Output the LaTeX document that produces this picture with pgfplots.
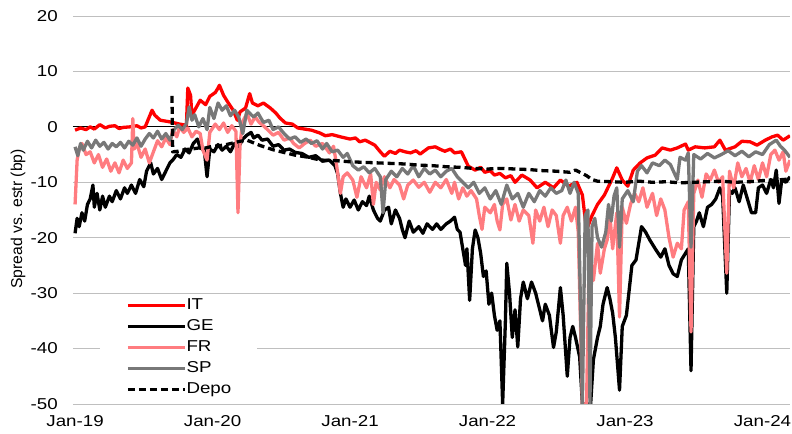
\documentclass[border=0pt]{standalone}
\usepackage{pgfplots}
\pgfplotsset{compat=1.18}
\usepackage{graphicx}
\usepackage{fontspec}
\setmainfont{Liberation Sans}
\newcommand\hs[1]{\scalebox{1.19}[1]{#1}}
\definecolor{itred}{RGB}{255,0,0}
\definecolor{frpink}{RGB}{255,124,128}
\definecolor{spgray}{RGB}{120,120,120}
\definecolor{gridgray}{RGB}{191,191,191}
\begin{document}
\begin{tikzpicture}[font=\fontsize{15.8}{19}\selectfont]
\path[use as bounding box] (-73bp,-30bp) rectangle (719bp,404bp);
\begin{axis}[
  scale only axis, width=717bp, height=388bp,
  xmin=2018.985, xmax=2024.2, ymin=-50, ymax=20,
  axis x line*=bottom, axis y line*=left,
  axis line style={draw=none},
  major tick length=0pt,
  xtick={2019,2020,2021,2022,2023,2024},
  xticklabels={\hs{Jan-19},\hs{Jan-20},\hs{Jan-21},\hs{Jan-22},\hs{Jan-23},\hs{Jan-24}},
  ytick={-50,-40,-30,-20,-10,0,10,20},
  yticklabels={\hs{-50},\hs{-40},\hs{-30},\hs{-20},\hs{-10},\hs{0},\hs{10},\hs{20}},
  xticklabel style={inner sep=0pt, anchor=north, yshift=-11bp},
  yticklabel style={inner sep=0pt, anchor=east, xshift=-15bp},
  ymajorgrids, grid style={gridgray, line width=1bp},
  extra y ticks={0}, extra y tick labels={},
  extra y tick style={grid style={black, line width=1.2bp}},
  ylabel={Spread vs. estr (bp)},
  ylabel style={at={(axis description cs:-0.0767,0.477)}, anchor=center},
  legend style={at={(axis description cs:0.0377,0.278)}, anchor=north west,
    fill=white, draw=none, inner xsep=26bp, inner ysep=2bp,
    row sep=6bp,
    nodes={inner sep=0pt, text height=11.5bp, text depth=3.5bp},
    /tikz/every even column/.append style={column sep=7bp}},
  legend cell align=left,
  legend image code/.code={\draw[#1] (0bp,0bp) -- (57bp,0bp);},
  every axis plot/.append style={line width=3.3bp, line join=round},
]
\addplot[itred] coordinates {(2019.00,-0.6)(2019.04,-0.2)(2019.08,-0.5)(2019.11,0)(2019.14,-0.4)(2019.18,0.4)(2019.22,-0.2)(2019.25,0.1)(2019.29,0.2)(2019.32,-0.3)(2019.35,-0.1)(2019.40,0)(2019.45,0.2)(2019.48,-0.2)(2019.51,0)(2019.53,1.2)(2019.56,3.0)(2019.58,2.1)(2019.62,1.2)(2019.69,0.9)(2019.76,0.5)(2019.81,0.3)(2019.82,7.0)(2019.84,5.7)(2019.85,2.1)(2019.87,3.0)(2019.91,4.8)(2019.95,4.0)(2019.98,5.5)(2020.02,6.2)(2020.04,7.0)(2020.05,7.5)(2020.08,5.7)(2020.11,4.5)(2020.15,3.0)(2020.18,1.2)(2020.20,2.7)(2020.24,3.4)(2020.27,6.0)(2020.29,4.3)(2020.33,3.8)(2020.37,4.3)(2020.42,3.4)(2020.46,2.5)(2020.49,1.6)(2020.53,0.7)(2020.58,0.5)(2020.62,-0.2)(2020.67,-0.4)(2020.72,-0.6)(2020.78,-1.1)(2020.82,-1.6)(2020.87,-1.4)(2020.93,-1.8)(2021.00,-2.2)(2021.04,-2.0)(2021.07,-2.7)(2021.11,-2.4)(2021.15,-2.9)(2021.18,-3.3)(2021.22,-4.5)(2021.25,-5.3)(2021.29,-4.4)(2021.33,-4.8)(2021.36,-4.2)(2021.40,-4.5)(2021.44,-4.7)(2021.48,-4.3)(2021.51,-4.9)(2021.57,-3.8)(2021.62,-3.6)(2021.66,-4.1)(2021.69,-4.4)(2021.73,-4.0)(2021.76,-4.7)(2021.81,-4.5)(2021.86,-7.1)(2021.91,-7.8)(2021.95,-7.3)(2021.98,-8.2)(2022.02,-7.9)(2022.05,-8.7)(2022.09,-8.4)(2022.13,-9.2)(2022.17,-8.8)(2022.20,-10.0)(2022.25,-8.7)(2022.31,-9.6)(2022.36,-11.0)(2022.42,-10.0)(2022.48,-11.0)(2022.53,-9.6)(2022.59,-10.7)(2022.65,-10.0)(2022.69,-12.3)(2022.72,-18.6)(2022.76,-16)(2022.80,-14)(2022.85,-12.3)(2022.91,-9.2)(2022.94,-7.4)(2022.98,-9.6)(2023.02,-10.7)(2023.06,-7.8)(2023.11,-6.5)(2023.16,-5.6)(2023.22,-5.1)(2023.27,-3.8)(2023.33,-4.2)(2023.38,-3.8)(2023.44,-3.1)(2023.46,-4.2)(2023.51,-3.6)(2023.58,-3.8)(2023.65,-3.6)(2023.69,-2.4)(2023.73,-4.2)(2023.80,-3.6)(2023.85,-2.6)(2023.91,-2.7)(2023.96,-3.3)(2024.02,-2.4)(2024.07,-1.8)(2024.11,-1.5)(2024.15,-2.4)(2024.20,-1.6)};
\addlegendentry{\hs{IT}}
\addplot[black] coordinates {(2019.000,-19.2)(2019.015,-16.5)(2019.030,-18.0)(2019.050,-15.5)(2019.070,-17.0)(2019.090,-14.0)(2019.110,-13.0)(2019.130,-10.5)(2019.140,-14.5)(2019.160,-12.0)(2019.180,-15.0)(2019.200,-12.5)(2019.220,-14.5)(2019.250,-12.5)(2019.270,-13.5)(2019.300,-11.5)(2019.330,-13.0)(2019.360,-11.0)(2019.380,-12.0)(2019.410,-10.5)(2019.440,-12.0)(2019.470,-9.5)(2019.500,-10.8)(2019.520,-8.0)(2019.550,-6.5)(2019.570,-8.5)(2019.600,-7.5)(2019.630,-9.5)(2019.660,-8.0)(2019.690,-6.5)(2019.710,-6.0)(2019.740,-5.0)(2019.770,-5.5)(2019.800,-4.0)(2019.830,-4.7)(2019.860,-3.0)(2019.890,-2.2)(2019.910,-3.8)(2019.940,-4.2)(2019.960,-9.0)(2019.980,-4.0)(2020.010,-4.5)(2020.040,-3.2)(2020.070,-4.2)(2020.100,-3.5)(2020.130,-4.5)(2020.160,-3.0)(2020.190,-3.6)(2020.220,-2.2)(2020.250,-1.5)(2020.280,-1.0)(2020.300,-2.0)(2020.330,-1.5)(2020.360,-2.4)(2020.400,-2.2)(2020.440,-3.5)(2020.480,-3.2)(2020.520,-4.2)(2020.560,-4.0)(2020.600,-4.6)(2020.650,-4.8)(2020.700,-5.5)(2020.750,-5.2)(2020.800,-6.2)(2020.850,-6.0)(2020.890,-7.0)(2020.910,-8.5)(2020.930,-12.0)(2020.950,-14.5)(2020.970,-13.0)(2021.000,-14.5)(2021.030,-13.2)(2021.060,-15.0)(2021.090,-13.5)(2021.120,-14.2)(2021.140,-12.5)(2021.170,-15.0)(2021.200,-16.5)(2021.220,-17.0)(2021.250,-15.0)(2021.280,-14.5)(2021.300,-17.5)(2021.330,-15.0)(2021.360,-16.5)(2021.380,-18.5)(2021.400,-20.0)(2021.430,-17.0)(2021.460,-19.0)(2021.500,-18.0)(2021.530,-19.2)(2021.560,-17.5)(2021.600,-18.5)(2021.630,-17.5)(2021.660,-18.5)(2021.700,-17.5)(2021.730,-17.0)(2021.760,-16.3)(2021.780,-18.5)(2021.800,-19.0)(2021.820,-22.0)(2021.840,-25.0)(2021.850,-22.0)(2021.870,-31.3)(2021.890,-22.0)(2021.910,-18.6)(2021.930,-20.0)(2021.950,-22.8)(2021.970,-27.0)(2021.990,-26.0)(2022.010,-32.0)(2022.030,-30.0)(2022.050,-34.0)(2022.070,-36.7)(2022.090,-35.0)(2022.110,-50.0)(2022.130,-35.0)(2022.140,-24.6)(2022.160,-30.0)(2022.180,-38.0)(2022.200,-33.0)(2022.220,-39.7)(2022.240,-31.0)(2022.260,-28.0)(2022.290,-31.0)(2022.320,-28.0)(2022.350,-30.0)(2022.370,-32.0)(2022.400,-35.0)(2022.420,-32.0)(2022.450,-34.0)(2022.480,-39.8)(2022.500,-37.0)(2022.530,-29.0)(2022.550,-34.0)(2022.580,-45.0)(2022.600,-38.0)(2022.620,-36.0)(2022.640,-38.0)(2022.670,-41.5)(2022.690,-50.0)(2022.750,-50.0)(2022.770,-42.0)(2022.800,-38.0)(2022.820,-36.0)(2022.840,-32.0)(2022.870,-29.0)(2022.890,-31.0)(2022.910,-33.6)(2022.930,-38.0)(2022.960,-47.5)(2022.980,-36.0)(2023.010,-34.0)(2023.050,-25.0)(2023.080,-24.0)(2023.120,-18.0)(2023.150,-19.0)(2023.180,-20.4)(2023.220,-22.0)(2023.260,-23.5)(2023.290,-22.0)(2023.320,-25.0)(2023.350,-26.5)(2023.380,-27.0)(2023.410,-24.0)(2023.440,-22.8)(2023.460,-22.0)(2023.480,-44.0)(2023.500,-18.0)(2023.520,-17.0)(2023.540,-15.5)(2023.570,-18.0)(2023.600,-14.5)(2023.630,-14.0)(2023.660,-13.0)(2023.690,-11.0)(2023.710,-12.5)(2023.740,-30.0)(2023.760,-11.5)(2023.780,-12.0)(2023.800,-11.0)(2023.830,-13.5)(2023.860,-10.5)(2023.890,-13.0)(2023.920,-15.5)(2023.950,-15.5)(2023.970,-11.0)(2024.000,-10.5)(2024.030,-12.0)(2024.060,-9.5)(2024.080,-11.0)(2024.100,-7.8)(2024.120,-13.8)(2024.140,-9.5)(2024.170,-10.0)(2024.200,-9.0)};
\addlegendentry{\hs{GE}}
\addplot[frpink] coordinates {(2019.000,-14)(2019.015,-6)(2019.030,-4)(2019.050,-3)(2019.080,-5)(2019.110,-4.5)(2019.140,-6.5)(2019.170,-5)(2019.200,-7.3)(2019.230,-5.8)(2019.260,-8)(2019.290,-6.5)(2019.320,-8.3)(2019.350,-6)(2019.380,-7.5)(2019.410,-6.5)(2019.420,1.5)(2019.430,-4)(2019.450,-3)(2019.480,-5.5)(2019.510,-4)(2019.540,-6.5)(2019.570,-4.5)(2019.600,-2.5)(2019.630,-3.6)(2019.660,-2)(2019.690,-3.2)(2019.710,-0.5)(2019.740,-1.8)(2019.760,0)(2019.790,-1)(2019.820,-0.2)(2019.850,-1.8)(2019.880,-0.8)(2019.910,-1.2)(2019.930,-4.2)(2019.960,-6)(2019.980,-1)(2020.020,0.5)(2020.050,-0.5)(2020.080,0.7)(2020.110,-1)(2020.140,0.2)(2020.170,-0.8)(2020.185,-15.5)(2020.200,-3)(2020.220,1)(2020.250,2.4)(2020.280,0.5)(2020.310,1.8)(2020.340,0.8)(2020.370,0.2)(2020.400,-0.5)(2020.440,-1.5)(2020.480,-1)(2020.520,-2.4)(2020.560,-2)(2020.590,-3)(2020.630,-3.8)(2020.670,-3)(2020.710,-2.4)(2020.750,-3.5)(2020.800,-3)(2020.850,-4.7)(2020.880,-3.5)(2020.900,-6.5)(2020.930,-12)(2020.950,-9)(2020.980,-8.3)(2021.020,-9.6)(2021.050,-12.7)(2021.080,-9)(2021.120,-11)(2021.150,-8.5)(2021.170,-14)(2021.190,-10)(2021.220,-11.4)(2021.250,-9)(2021.290,-11)(2021.320,-9.5)(2021.360,-10.5)(2021.390,-13)(2021.420,-10.5)(2021.460,-9.6)(2021.500,-10.9)(2021.540,-10)(2021.580,-11.8)(2021.620,-10)(2021.660,-11)(2021.700,-9.5)(2021.740,-12)(2021.760,-10)(2021.790,-13)(2021.820,-11)(2021.850,-12.5)(2021.880,-11.5)(2021.920,-13)(2021.940,-16)(2021.960,-18.5)(2021.980,-14.5)(2022.020,-15.5)(2022.050,-14)(2022.070,-17)(2022.090,-18.6)(2022.110,-14)(2022.140,-13)(2022.170,-16.8)(2022.200,-14)(2022.230,-17)(2022.260,-15)(2022.300,-16)(2022.330,-21)(2022.350,-15)(2022.380,-17)(2022.410,-14.5)(2022.440,-18)(2022.470,-15)(2022.500,-16)(2022.530,-21)(2022.550,-16)(2022.580,-14.5)(2022.610,-17)(2022.640,-14.5)(2022.660,-19)(2022.690,-50)(2022.720,-50)(2022.740,-22)(2022.770,-27.7)(2022.800,-21)(2022.820,-26.4)(2022.850,-22)(2022.870,-20.4)(2022.890,-16)(2022.910,-22)(2022.940,-15.5)(2022.960,-34.3)(2022.980,-14.5)(2023.010,-17.4)(2023.040,-14)(2023.070,-12)(2023.100,-13.5)(2023.130,-11)(2023.160,-14.5)(2023.200,-12)(2023.230,-16)(2023.260,-13)(2023.290,-15)(2023.320,-20)(2023.350,-23.5)(2023.380,-21)(2023.410,-22)(2023.430,-15)(2023.460,-13.5)(2023.480,-37)(2023.500,-12)(2023.530,-9.6)(2023.560,-12.7)(2023.590,-8.5)(2023.620,-9.6)(2023.650,-7.8)(2023.680,-10)(2023.710,-9)(2023.740,-26.4)(2023.760,-8)(2023.790,-11)(2023.820,-6.5)(2023.850,-9)(2023.880,-7.5)(2023.910,-10)(2023.940,-7)(2023.970,-9.5)(2024.000,-6.5)(2024.030,-9)(2024.060,-5)(2024.090,-4.2)(2024.120,-6)(2024.150,-4.5)(2024.170,-8)(2024.200,-6)};
\addlegendentry{\hs{FR}}
\addplot[spgray] coordinates {(2019.00,-3.6)(2019.02,-5.2)(2019.04,-3)(2019.06,-4.2)(2019.09,-2.6)(2019.12,-3.8)(2019.15,-2.4)(2019.18,-3.5)(2019.21,-2.8)(2019.24,-4)(2019.27,-3)(2019.30,-3.6)(2019.33,-2.8)(2019.36,-3.8)(2019.39,-2.6)(2019.42,-3.3)(2019.45,-2)(2019.48,-3.5)(2019.51,-2.2)(2019.54,-1.2)(2019.57,-2)(2019.60,-0.8)(2019.63,-2.2)(2019.66,-1.2)(2019.69,-2.4)(2019.72,-0.5)(2019.75,0.3)(2019.78,-0.5)(2019.81,0.6)(2019.83,3.6)(2019.85,1.2)(2019.87,2.2)(2019.90,0)(2019.93,1.5)(2019.96,-0.5)(2019.98,3.5)(2020.01,1.5)(2020.04,4.3)(2020.07,3.0)(2020.10,3.8)(2020.13,2)(2020.16,3)(2020.19,1.8)(2020.22,-1.2)(2020.25,3)(2020.28,2.2)(2020.30,1.8)(2020.33,2.5)(2020.37,0.8)(2020.41,1.2)(2020.44,-0.5)(2020.48,0)(2020.52,-1.2)(2020.56,-2.2)(2020.60,-1.8)(2020.64,-2.8)(2020.68,-2.2)(2020.72,-3)(2020.76,-2.5)(2020.80,-4)(2020.83,-3)(2020.87,-4.5)(2020.91,-4.2)(2020.95,-5.5)(2020.98,-4.8)(2021.02,-7)(2021.06,-7.8)(2021.10,-7.2)(2021.14,-8.3)(2021.18,-7.5)(2021.22,-9)(2021.24,-15.5)(2021.26,-9.5)(2021.30,-8)(2021.34,-9)(2021.38,-7.5)(2021.42,-8.5)(2021.46,-7)(2021.50,-9)(2021.54,-7.5)(2021.58,-8.5)(2021.62,-7.8)(2021.66,-9)(2021.70,-8)(2021.74,-7.5)(2021.78,-9)(2021.82,-10)(2021.86,-11)(2021.90,-10)(2021.94,-12)(2021.98,-11)(2022.02,-13)(2022.06,-11.5)(2022.10,-14)(2022.14,-10.5)(2022.18,-13)(2022.22,-12)(2022.26,-14.5)(2022.30,-12)(2022.34,-13.5)(2022.38,-11.5)(2022.42,-12.5)(2022.46,-11)(2022.50,-12)(2022.54,-11.5)(2022.57,-9.6)(2022.60,-12)(2022.63,-10)(2022.66,-12)(2022.69,-50)(2022.71,-16)(2022.73,-15)(2022.745,-50)(2022.76,-18)(2022.78,-16.5)(2022.80,-20)(2022.83,-21.7)(2022.86,-19)(2022.88,-14)(2022.90,-17)(2022.92,-12.5)(2022.94,-11)(2022.96,-21.7)(2022.98,-13)(2023.02,-11.5)(2023.06,-13.5)(2023.09,-8)(2023.12,-7)(2023.16,-8.3)(2023.20,-6.5)(2023.25,-7)(2023.29,-6)(2023.33,-6.8)(2023.38,-9.5)(2023.40,-5.5)(2023.44,-6)(2023.46,-4.7)(2023.48,-21.7)(2023.50,-5)(2023.55,-5.8)(2023.60,-4.8)(2023.65,-5.6)(2023.70,-5)(2023.75,-4.3)(2023.80,-5.2)(2023.85,-4.4)(2023.90,-5.4)(2023.95,-4.5)(2024.00,-5)(2024.05,-3.2)(2024.10,-2.4)(2024.13,-3.5)(2024.16,-4.2)(2024.20,-5.5)};
\addlegendentry{\hs{SP}}
\addplot[black, dash pattern=on 7bp off 4bp] coordinates {(2019.705,5.6)(2019.71,-4.5)(2019.75,-4.4)(2019.80,-4.1)(2019.85,-4)(2019.90,-3.8)(2019.95,-3.8)(2020.00,-3.5)(2020.05,-3.4)(2020.10,-3.2)(2020.15,-2.9)(2020.20,-2.6)(2020.25,-2.4)(2020.30,-2.9)(2020.35,-3.4)(2020.40,-3.8)(2020.45,-4.2)(2020.50,-4.5)(2020.55,-4.8)(2020.60,-5.1)(2020.65,-5.3)(2020.70,-5.5)(2020.75,-5.8)(2020.80,-6)(2020.90,-6.1)(2021.00,-6.3)(2021.10,-6.4)(2021.20,-6.5)(2021.30,-6.6)(2021.40,-6.7)(2021.50,-6.9)(2021.60,-7)(2021.70,-7.2)(2021.80,-7.3)(2021.90,-7.5)(2022.00,-7.6)(2022.10,-7.5)(2022.20,-7.6)(2022.30,-7.7)(2022.40,-7.9)(2022.50,-8)(2022.60,-8.2)(2022.64,-7.8)(2022.68,-8.3)(2022.72,-8.8)(2022.76,-9.5)(2022.80,-9.8)(2022.90,-9.9)(2023.00,-10)(2023.10,-9.8)(2023.20,-10)(2023.30,-9.9)(2023.40,-10.1)(2023.50,-10)(2023.60,-9.9)(2023.70,-9.8)(2023.80,-10)(2023.90,-9.9)(2024.00,-9.7)(2024.10,-9.6)(2024.20,-9.4)};
\addlegendentry{\hs{Depo}}
\end{axis}
\end{tikzpicture}
\end{document}
